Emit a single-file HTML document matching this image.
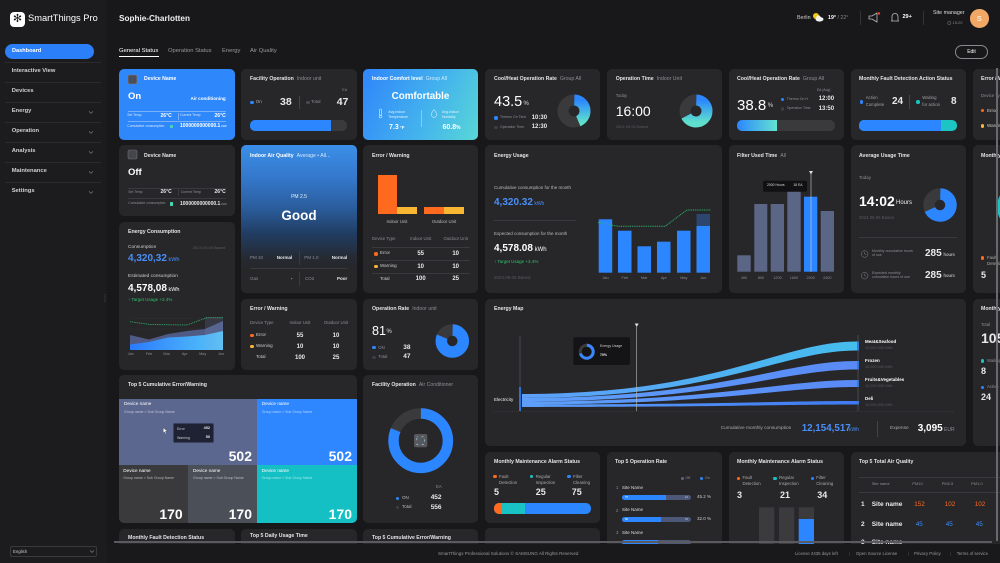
<!DOCTYPE html>
<html><head><meta charset="utf-8"><style>
*{margin:0;padding:0;box-sizing:border-box}
html,body{width:1000px;height:563px;overflow:hidden;background:#18181a}
body{position:relative;font-family:"Liberation Sans","DejaVu Sans",sans-serif}
.c{position:absolute;background:#27272a;border-radius:5px;overflow:hidden}
.t{position:absolute;white-space:nowrap;line-height:1;color:#e8e8ea}
.h{font-weight:bold;font-size:5.2px;color:#e4e4e6}
.h i{font-style:normal;font-weight:normal;color:#8e8e93;margin-left:3px}
.g{color:#8e8e93}
.k{color:#5a5a5f}
.b{font-weight:bold}
.d{position:absolute;width:3.6px;height:3.6px;border-radius:50%}
.l{position:absolute;background:#3a3a3e}
.ct{text-align:center;width:40px}
.bar{position:absolute;border-radius:5px;overflow:hidden;background:#3a3a3d}
.bar div{position:absolute;top:0;height:100%}
.sb{color:#d0d0d3;font-weight:bold;font-size:5.8px}
</style></head><body>

<!-- SIDEBAR -->
<div style="position:absolute;left:0;top:0;width:107px;height:563px;background:#1c1c1e"></div>
<div style="position:absolute;left:10px;top:12px;width:15px;height:15px;background:#fff;border-radius:4px"></div>
<div class="t" style="left:10px;top:13.5px;width:15px;text-align:center;font-size:11px;color:#1c1c1e">✻</div>
<div class="t" style="left:28px;top:14.3px;font-size:9.3px;color:#fff">SmartThings Pro</div>
<div style="position:absolute;left:5px;top:44px;width:89px;height:15px;border-radius:8px;background:#2b7ff8"></div>
<div class="t b" style="left:12px;top:48.8px;font-size:5.6px;color:#fff">Dashboard</div>
<div class="l" style="left:5px;top:62px;width:96px;height:.6px;background:#2b2b2e"></div>
<div class="l" style="left:5px;top:82px;width:96px;height:.6px;background:#2b2b2e"></div>
<div class="l" style="left:5px;top:102px;width:96px;height:.6px;background:#2b2b2e"></div>
<div class="l" style="left:5px;top:122px;width:96px;height:.6px;background:#2b2b2e"></div>
<div class="l" style="left:5px;top:142px;width:96px;height:.6px;background:#2b2b2e"></div>
<div class="l" style="left:5px;top:162px;width:96px;height:.6px;background:#2b2b2e"></div>
<div class="l" style="left:5px;top:182px;width:96px;height:.6px;background:#2b2b2e"></div>
<div class="t sb" style="left:11.7px;top:69px">Interactive View</div>
<div class="t sb" style="left:11.7px;top:89px">Devices</div>
<div class="t sb" style="left:11.7px;top:109.3px">Energy</div>
<div class="t sb" style="left:11.7px;top:129.3px">Operation</div>
<div class="t sb" style="left:11.7px;top:149.3px">Analysis</div>
<div class="t sb" style="left:11.7px;top:169.3px">Maintenance</div>
<div class="t sb" style="left:11.7px;top:189.3px">Settings</div>
<div style="position:absolute;left:10px;top:546px;width:87px;height:11px;border:1px solid #3a3a3d;border-radius:2px"></div>
<div class="t" style="left:13px;top:549.5px;font-size:4.3px;color:#ccc">English</div>

<!-- HEADER -->
<div class="t b" style="left:119px;top:15px;font-size:8.2px;color:#f0f0f2">Sophie-Charlotten</div>
<div class="t" style="left:797px;top:15.5px;font-size:5.3px;color:#ccc">Berlin</div>
<div class="t" style="left:828px;top:15.5px;font-size:5.3px;color:#fff"><b>19°</b><span style="color:#888"> / 22°</span></div>
<div class="l" style="left:860px;top:11px;width:.6px;height:14px;background:#333"></div>
<div class="t b" style="left:902.5px;top:15.3px;font-size:5.5px;color:#fff">29+</div>
<div class="l" style="left:923px;top:11px;width:.6px;height:14px;background:#333"></div>
<div class="t" style="left:933px;top:11.2px;font-size:5.3px;color:#ddd">Site manager</div>
<div class="t" style="left:952.5px;top:20.9px;font-size:4px;color:#888">15:20</div>
<div style="position:absolute;left:970px;top:9px;width:18.6px;height:18.6px;border-radius:50%;background:#f1a766"></div>
<div class="t" style="left:970px;top:14.6px;width:18.6px;text-align:center;font-size:7.5px;color:#fff">S</div>
<div class="t" style="left:119px;top:49px;font-size:5.9px;color:#fff">General Status</div>
<div class="t" style="left:168px;top:49px;font-size:5.8px;color:#9a9a9e">Operation Status</div>
<div class="t" style="left:222px;top:49px;font-size:5.8px;color:#9a9a9e">Energy</div>
<div class="t" style="left:250px;top:49px;font-size:5.8px;color:#9a9a9e">Air Quality</div>
<div class="l" style="left:119px;top:56px;width:40px;height:1px;background:#fff"></div>
<div style="position:absolute;left:955px;top:45px;width:33px;height:14px;border:1px solid #8a8a8e;border-radius:7px"></div>
<div class="t" style="left:955px;top:49.5px;width:33px;text-align:center;font-size:5px;color:#fff">Edit</div>

<!-- CARDS -->
<div class="c" style="left:119px;top:69px;width:116px;height:71px;background:#2e87fb"></div>
<div class="c" style="left:241px;top:69px;width:116px;height:71px"></div>
<div class="c" style="left:363px;top:69px;width:115px;height:71px;background:linear-gradient(115deg,#3189fa 5%,#45b5ec 60%,#58d8d6 100%)"></div>
<div class="c" style="left:485px;top:69px;width:115px;height:71px"></div>
<div class="c" style="left:607px;top:69px;width:115px;height:71px"></div>
<div class="c" style="left:729px;top:69px;width:115px;height:71px"></div>
<div class="c" style="left:851px;top:69px;width:115px;height:71px"></div>
<div class="c" style="left:973px;top:69px;width:60px;height:71px"></div>

<div class="c" style="left:119px;top:145px;width:116px;height:71px"></div>
<div class="c" style="left:241px;top:145px;width:116px;height:148px;background:linear-gradient(180deg,#3b8fe8 0%,#3478cc 22%,#2b5e9e 42%,#213d62 60%,#252a33 76%,#27272a 84%)"></div>
<div class="c" style="left:363px;top:145px;width:115px;height:148px"></div>
<div class="c" style="left:485px;top:145px;width:237px;height:148px"></div>
<div class="c" style="left:729px;top:145px;width:115px;height:148px"></div>
<div class="c" style="left:851px;top:145px;width:115px;height:148px"></div>
<div class="c" style="left:973px;top:145px;width:60px;height:148px"></div>
<div class="c" style="left:119px;top:222px;width:116px;height:148px"></div>
<div class="c" style="left:241px;top:299px;width:116px;height:71px"></div>
<div class="c" style="left:363px;top:299px;width:115px;height:71px"></div>
<div class="c" style="left:485px;top:299px;width:481px;height:147px"></div>
<div class="c" style="left:973px;top:299px;width:60px;height:147px"></div>

<div class="c" style="left:119px;top:375px;width:238px;height:148px">
 <div style="position:absolute;left:0;top:24px;width:137.7px;height:66px;background:#5b678f"></div>
 <div style="position:absolute;left:137.7px;top:24px;width:100.3px;height:66px;background:#2e87ff"></div>
 <div style="position:absolute;left:0;top:90px;width:69px;height:58px;background:#3a3a3d"></div>
 <div style="position:absolute;left:69px;top:90px;width:68.7px;height:58px;background:#4b4f58"></div>
 <div style="position:absolute;left:137.7px;top:90px;width:100.3px;height:58px;background:#14c0c3"></div>
</div>
<div class="c" style="left:363px;top:375px;width:115px;height:148px"></div>
<div class="c" style="left:485px;top:452px;width:115px;height:71px"></div>
<div class="c" style="left:607px;top:452px;width:115px;height:100px"></div>
<div class="c" style="left:729px;top:452px;width:115px;height:100px"></div>
<div class="c" style="left:851px;top:452px;width:182px;height:100px"></div>
<div class="c" style="left:485px;top:528px;width:115px;height:30px"></div>
<div class="c" style="left:119px;top:529px;width:116px;height:30px"></div>
<div class="c" style="left:241px;top:529px;width:116px;height:30px"></div>
<div class="c" style="left:363px;top:529px;width:115px;height:30px"></div>

<!-- GRAPHICS -->
<svg style="position:absolute;left:0;top:0" width="1000" height="563">
<defs>
<linearGradient id="gbt" x1="0" y1="0" x2="0" y2="1"><stop offset="0" stop-color="#2b86ff"/><stop offset="1" stop-color="#5ee0cc"/></linearGradient>
<linearGradient id="ga" x1="0" y1="0" x2="1" y2="0"><stop offset="0" stop-color="#2a7bff"/><stop offset="1" stop-color="#57c6f7"/></linearGradient>
<linearGradient id="sm" x1="0" y1="0" x2="1" y2="0"><stop offset="0" stop-color="#5d9ffa"/><stop offset="1" stop-color="#45bdec"/></linearGradient>
<linearGradient id="sf" x1="0" y1="0" x2="1" y2="0"><stop offset="0" stop-color="#5d9ffa"/><stop offset="1" stop-color="#5a8af6"/></linearGradient>
<linearGradient id="sd" x1="0" y1="0" x2="1" y2="0"><stop offset="0" stop-color="#5d9ffa"/><stop offset="1" stop-color="#3f7af2"/></linearGradient>
</defs>
<!-- sidebar chevrons -->
<g fill="none" stroke="#8a8a8e" stroke-width=".6">
<polyline points="89,111.3 91,113.3 93,111.3"/><polyline points="89,131.3 91,133.3 93,131.3"/>
<polyline points="89,151.3 91,153.3 93,151.3"/><polyline points="89,171.3 91,173.3 93,171.3"/>
<polyline points="89,191.3 91,193.3 93,191.3"/><polyline points="90,550.5 92,552.5 94,550.5"/>
</g>
<line x1="105" y1="294" x2="105" y2="302" stroke="#555" stroke-width=".8" stroke-dasharray=".8 1"/>
<!-- header icons -->
<circle cx="816" cy="16" r="3" fill="#f5c518"/>
<ellipse cx="819.5" cy="19.3" rx="4" ry="2.3" fill="#f2f2f2"/><circle cx="818.5" cy="17.6" r="2.2" fill="#f2f2f2"/>
<path d="M869,16 L872,16 L877,13 L877,22 L872,19 L869,19 Z" fill="none" stroke="#bbb" stroke-width=".8"/>
<circle cx="879" cy="13.5" r="1.2" fill="#ff3b30"/>
<path d="M892,21 L892,17 Q892,13.5 895,13.5 Q898,13.5 898,17 L898,21 Z M891,21 L899,21" fill="none" stroke="#bbb" stroke-width=".8"/>
<circle cx="949.3" cy="23" r="1.6" fill="none" stroke="#888" stroke-width=".5"/>
<!-- card A icons -->
<rect x="128" y="75" width="9" height="9" rx="1.5" fill="#4a4f5a" stroke="#7a808a" stroke-width=".6"/>
<rect x="128" y="150" width="9" height="9" rx="1.5" fill="#45464b" stroke="#6d6f75" stroke-width=".6"/>
<!-- card C icons -->
<rect x="379.5" y="109" width="2" height="6.5" rx="1" fill="none" stroke="#fff" stroke-width=".5"/>
<circle cx="380.5" cy="116.5" r="1.5" fill="none" stroke="#fff" stroke-width=".5"/>
<path d="M434,109.5 Q431.3,113 431.3,114.6 A2.7,2.7 0 0 0 436.7,114.6 Q436.7,113 434,109.5Z" fill="none" stroke="#fff" stroke-width=".5"/>
<!-- donuts -->
<circle cx="574" cy="111" r="11" fill="none" stroke="#3a3a3d" stroke-width="11"/>
<circle cx="574" cy="111" r="11" fill="none" stroke="url(#gbt)" stroke-width="11" stroke-dasharray="30.07 39.05" stroke-dashoffset="17.28"/>
<circle cx="696" cy="111" r="11" fill="none" stroke="#3a3a3d" stroke-width="11"/>
<circle cx="696" cy="111" r="11" fill="none" stroke="url(#gbt)" stroke-width="11" stroke-dasharray="46.3 22.82" stroke-dashoffset="17.28"/>
<circle cx="940" cy="205" r="11" fill="none" stroke="#3a3a3d" stroke-width="11.5"/>
<circle cx="940" cy="205" r="11" fill="none" stroke="#2b86ff" stroke-width="11.5" stroke-dasharray="47 22.12" stroke-dashoffset="17.28"/>
<circle cx="452.3" cy="341" r="11" fill="none" stroke="#3a3a3d" stroke-width="11.5"/>
<circle cx="452.3" cy="341" r="11" fill="none" stroke="#2b86ff" stroke-width="11.5" stroke-dasharray="55.98 13.14" stroke-dashoffset="17.28"/>
<circle cx="420.7" cy="440.7" r="27.2" fill="none" stroke="#3a3a3d" stroke-width="10.4"/>
<circle cx="420.7" cy="440.7" r="27.2" fill="none" stroke="#2b86ff" stroke-width="10.4" stroke-dasharray="138.9 32" stroke-dashoffset="42.73"/>
<rect x="414" y="434" width="13.3" height="13.3" rx="2" fill="#58585c"/>
<rect x="416.8" y="436.8" width="7.7" height="7.7" fill="none" stroke="#8fd3ee" stroke-width=".7" stroke-dasharray="2.2 3.5" stroke-dashoffset="1.1"/>
<circle cx="1021" cy="207" r="24" fill="#19c3c4"/>
<!-- error/warning bars -->
<rect x="378" y="175" width="19" height="39" fill="#ff6a1f"/>
<rect x="397" y="207" width="20" height="7" fill="#f7b733"/>
<rect x="424" y="207" width="20" height="7" fill="#ff6a1f"/>
<rect x="444" y="207" width="20" height="7" fill="#f7b733"/>
<!-- energy usage bars -->
<g fill="#2b86ff">
<rect x="598.7" y="219.3" width="13.5" height="53.4"/>
<rect x="618" y="230.7" width="13.5" height="42"/>
<rect x="637.5" y="246.3" width="13.5" height="26.4"/>
<rect x="657" y="241.7" width="13.5" height="31"/>
<rect x="677" y="230.7" width="13.5" height="42"/>
<rect x="696.5" y="226" width="13.5" height="46.7"/>
</g>
<rect x="696.5" y="214" width="13.5" height="12" fill="#2c4670"/>
<polyline points="598,222.5 618,226.3 665,226.3 687,210 711,210" fill="none" stroke="#2fb36a" stroke-width="1" stroke-dasharray="1 .8"/>
<!-- filter bars -->
<g fill="#5b6586">
<rect x="737.3" y="255.3" width="13.4" height="16.4"/>
<rect x="754.3" y="204" width="13" height="67.7"/>
<rect x="770.7" y="204" width="13.3" height="67.7"/>
<rect x="787.3" y="188.3" width="13.4" height="83.4"/>
<rect x="820.7" y="211" width="13.3" height="60.7"/>
</g>
<rect x="804" y="196.7" width="13.3" height="75" fill="#2b86ff"/>
<line x1="811" y1="173" x2="811" y2="272" stroke="#cfcfd2" stroke-width=".6"/>
<polygon points="809,171 813,171 811,174.5" fill="#ddd"/>
<rect x="763" y="180.7" width="44" height="11" rx="1.5" fill="#111113"/>
<!-- clock icons -->
<g fill="none" stroke="#888" stroke-width=".5">
<circle cx="864.7" cy="254" r="3.3"/><polyline points="864.7,252 864.7,254 866.2,254.8"/>
<circle cx="864.7" cy="275.7" r="3.3"/><polyline points="864.7,273.7 864.7,275.7 866.2,276.5"/>
</g>
<!-- area chart -->
<g stroke="#333336" stroke-width=".4"><line x1="130" y1="318.5" x2="223" y2="318.5"/><line x1="130" y1="329" x2="223" y2="329"/><line x1="130" y1="339.5" x2="223" y2="339.5"/></g>
<polygon points="130,335 149,339.5 168,334 187,331 205,329 223,321 223,350 130,350" fill="#4f5b84"/>
<polygon points="130,344.5 149,342 168,337.5 187,336.5 205,335 223,331 223,350 130,350" fill="url(#ga)"/>
<rect x="205" y="317" width="18" height="33" fill="rgba(140,160,220,0.15)"/>
<polyline points="130,321.7 150,324.5 187,325 206.7,317.7 223,317.7" fill="none" stroke="#2fb36a" stroke-width=".9" stroke-dasharray="1 .8"/>
<!-- sankey -->
<path d="M522,394 C720,394 780,341.5 857,341.5 L857,350.5 C780,350.5 720,398 522,398 Z" fill="url(#sm)"/>
<path d="M522,398 C720,398 780,361 857,361 L857,369.5 C780,369.5 720,401.5 522,401.5 Z" fill="url(#sf)"/>
<path d="M522,401.5 C720,401.5 780,380 857,380 L857,387 C780,387 720,404.5 522,404.5 Z" fill="url(#sf)"/>
<path d="M522,404.5 C720,404.5 780,401 857,401 L857,404.5 C780,404.5 720,407 522,407 Z" fill="url(#sd)"/>
<line x1="520" y1="336" x2="520" y2="411" stroke="#4a4a4e" stroke-width="1"/>
<line x1="520" y1="387" x2="520" y2="411" stroke="#2b86ff" stroke-width="1.6"/>
<line x1="858" y1="335" x2="858" y2="411" stroke="#4a4a4e" stroke-width="1"/>
<g stroke="#3a8cff" stroke-width="1.6"><line x1="858" y1="341.5" x2="858" y2="350.5"/><line x1="858" y1="361" x2="858" y2="369.5"/><line x1="858" y1="380" x2="858" y2="387"/><line x1="858" y1="401" x2="858" y2="404.5"/></g>
<line x1="494" y1="411.3" x2="954" y2="411.3" stroke="#4a4a4e" stroke-width=".5" stroke-dasharray="1 1"/>
<line x1="636.7" y1="327" x2="636.7" y2="411" stroke="#bbb" stroke-width=".6"/>
<polygon points="634.7,323.5 638.7,323.5 636.7,327" fill="#ddd"/>
<rect x="573.3" y="337.3" width="56.7" height="27.7" rx="2" fill="#141416"/>
<circle cx="586.7" cy="351.7" r="6.5" fill="none" stroke="#3a3a3d" stroke-width="3"/>
<circle cx="586.7" cy="351.7" r="6.5" fill="none" stroke="#3a86ff" stroke-width="3" stroke-dasharray="28.6 12.24" stroke-dashoffset="10.21"/>
<!-- monthly maint bars -->
<g fill="#3b3b3e"><rect x="759" y="507.3" width="15.3" height="45"/><rect x="779" y="507.3" width="15.3" height="45"/><rect x="798.7" y="507.3" width="15.3" height="45"/></g>
<rect x="798.7" y="519" width="15.3" height="35" fill="#2b86ff"/>
<!-- cursor -->
<polygon points="163.3,427.7 163.3,433 164.6,431.8 165.6,434 166.4,433.6 165.4,431.4 167.2,431.3" fill="#fff" stroke="#333" stroke-width=".3"/>
</svg>

<!-- CARD A -->
<div class="t h" style="left:144px;top:77.2px;color:#fff">Device Name</div>
<div class="t b" style="left:128px;top:92px;font-size:9.5px;color:#fff">On</div>
<div class="t b" style="right:774.3px;top:96.6px;font-size:4.6px;color:#fff">Air conditioning</div>
<div class="l" style="left:128px;top:110.7px;width:98px;height:.5px;background:rgba(255,255,255,.35)"></div>
<div class="t" style="left:127.3px;top:114.2px;font-size:3.4px;color:rgba(255,255,255,.8)">Set Temp</div>
<div class="t b" style="right:828.3px;top:113.5px;font-size:5px;color:#fff">26°C</div>
<div class="l" style="left:177.7px;top:112.5px;width:.5px;height:7px;background:rgba(255,255,255,.35)"></div>
<div class="t" style="left:180px;top:114.2px;font-size:3.4px;color:rgba(255,255,255,.8)">Current Temp</div>
<div class="t b" style="right:774.3px;top:113.5px;font-size:5px;color:#fff">26°C</div>
<div class="l" style="left:128px;top:121.3px;width:98px;height:.5px;background:rgba(255,255,255,.35)"></div>
<div class="t" style="left:127.3px;top:124.9px;font-size:3.4px;color:rgba(255,255,255,.8)">Cumulative consumption</div>
<div style="position:absolute;left:170px;top:125px;width:3.4px;height:3.4px;border-radius:.8px;background:#48d7b5"></div>
<div class="t b" style="left:180px;top:124.2px;font-size:5px;color:#fff">1000000000000.1<span style="font-size:3px;font-weight:normal"> kWh</span></div>

<!-- CARD B -->
<div class="t h" style="left:250px;top:77px">Facility Operation<i>Indoor unit</i></div>
<div class="t g" style="left:342.3px;top:89.2px;font-size:3.6px">EA</div>
<div class="d" style="left:250px;top:100.5px;background:#2b86ff"></div>
<div class="t" style="left:255.7px;top:100px;font-size:4.5px;color:#b0b0b4">On</div>
<div class="t b" style="left:280px;top:97.2px;font-size:10.5px">38</div>
<div class="l" style="left:299px;top:96px;width:.6px;height:13px;background:#444"></div>
<div class="d" style="left:306px;top:100.5px;background:#4a4a4e"></div>
<div class="t g" style="left:311px;top:100px;font-size:4.5px">Total</div>
<div class="t b" style="left:336.7px;top:97.2px;font-size:10.5px">47</div>
<div class="bar" style="left:250px;top:120px;width:97.3px;height:10.5px"><div style="left:0;width:81px;background:#2b86ff"></div></div>

<!-- CARD C -->
<div class="t h" style="left:372px;top:77px;color:#fff">Indoor Comfort level<i style="color:rgba(255,255,255,.75)">Group All</i></div>
<div class="t b" style="left:363px;width:115px;text-align:center;top:91.9px;font-size:9.8px;color:#fff">Comfortable</div>
<div class="t" style="left:388.3px;top:110.9px;font-size:3.5px;color:rgba(255,255,255,.85)">Avg.Indoor</div>
<div class="t" style="left:388.3px;top:116.2px;font-size:3.5px;color:rgba(255,255,255,.85)">Temperature</div>
<div class="t b" style="left:389px;top:123.9px;font-size:7px;color:#fff">7.3<span style="font-size:4.5px"> °F</span></div>
<div class="l" style="left:420.7px;top:110px;width:.5px;height:17px;background:rgba(255,255,255,.35)"></div>
<div class="t" style="left:442px;top:110.9px;font-size:3.5px;color:rgba(255,255,255,.85)">Avg.Indoor</div>
<div class="t" style="left:442px;top:116.2px;font-size:3.5px;color:rgba(255,255,255,.85)">Humidity</div>
<div class="t b" style="left:442.5px;top:123.9px;font-size:7px;color:#fff">60.8<span style="font-size:5px">%</span></div>

<!-- CARD D -->
<div class="t h" style="left:494px;top:77px">Cool/Heat Operation Rate<i>Group All</i></div>
<div class="t" style="left:494px;top:94.6px;font-size:14.5px;color:#fff">43.5</div>
<div class="t" style="left:523.5px;top:101px;font-size:6px;color:#ddd">%</div>
<div class="d" style="left:494px;top:116.2px;background:#2b86ff"></div>
<div class="t g" style="left:500px;top:116.2px;font-size:3.5px">Thermo On Time</div>
<div class="t b" style="left:531.7px;top:115px;font-size:6px">10:30</div>
<div class="d" style="left:494px;top:125.5px;background:#3e3e42"></div>
<div class="t g" style="left:500px;top:125.5px;font-size:3.5px">Operation Time</div>
<div class="t b" style="left:531.7px;top:124.3px;font-size:6px">12:30</div>

<!-- CARD E -->
<div class="t h" style="left:615.7px;top:77px">Operation Time<i>Indoor Unit</i></div>
<div class="t g" style="left:615.7px;top:93.5px;font-size:4.3px">Today</div>
<div class="t" style="left:615.7px;top:104.1px;font-size:14px;color:#fff">16:00</div>
<div class="t k" style="left:615.7px;top:125.2px;font-size:4px">2024.09.06 Based</div>

<!-- CARD F -->
<div class="t h" style="left:737px;top:77px">Cool/Heat Operation Rate<i>Group All</i></div>
<div class="t g" style="left:816.7px;top:89px;font-size:3.5px">EA (Avg)</div>
<div class="t" style="left:737px;top:97.6px;font-size:15px;color:#fff">38.8</div>
<div class="t" style="left:767.7px;top:103px;font-size:6px;color:#ddd">%</div>
<div class="d" style="left:780.5px;top:97.5px;background:#2b86ff"></div>
<div class="t g" style="left:786.7px;top:97.5px;font-size:3.5px">Thermo On H</div>
<div class="t b" style="left:818.7px;top:96.3px;font-size:6px">12:00</div>
<div class="d" style="left:780.5px;top:107.2px;background:#3e3e42"></div>
<div class="t g" style="left:786.7px;top:107.2px;font-size:3.5px">Operation Time</div>
<div class="t b" style="left:818.7px;top:106px;font-size:6px">13:50</div>
<div class="bar" style="left:737px;top:120px;width:98px;height:10.5px"><div style="left:0;width:40px;background:linear-gradient(90deg,#2b86ff,#63e3d0)"></div></div>

<!-- CARD G -->
<div class="t h" style="left:859px;top:77px">Monthly Fault Detection Action Status</div>
<div class="d" style="left:859.5px;top:100.2px;background:#2b86ff"></div>
<div class="t" style="left:865.7px;top:96.1px;font-size:4.3px;color:#a0a0a4">Action</div>
<div class="t" style="left:865.7px;top:103.1px;font-size:4.3px;color:#a0a0a4">Complete</div>
<div class="t b" style="left:892px;top:96.8px;font-size:10px">24</div>
<div class="l" style="left:908.7px;top:95px;width:.6px;height:14px;background:#444"></div>
<div class="d" style="left:916px;top:100.2px;background:#19c3c4"></div>
<div class="t" style="left:922.3px;top:96.1px;font-size:4.3px;color:#a0a0a4">Waiting</div>
<div class="t" style="left:922.3px;top:103.1px;font-size:4.3px;color:#a0a0a4">for action</div>
<div class="t b" style="left:951px;top:96.8px;font-size:10px">8</div>
<div class="bar" style="left:859.3px;top:120px;width:97.4px;height:10.5px;background:#1cc5c4"><div style="left:0;width:81.4px;background:#2b86ff"></div></div>

<!-- CARD H col8 -->
<div class="t h" style="left:981px;top:77px">Error / Warning</div>
<div class="t g" style="left:981px;top:93.8px;font-size:4.3px">Device Type</div>
<div class="d" style="left:980.5px;top:108.9px;background:#ff6a1f"></div>
<div class="t" style="left:987px;top:108.5px;font-size:4.5px;color:#ccc">Error</div>
<div class="d" style="left:980.5px;top:124.2px;background:#f7b733"></div>
<div class="t" style="left:987px;top:123.8px;font-size:4.5px;color:#ccc">Warning</div>

<!-- CARD I -->
<div class="t h" style="left:144px;top:153.5px">Device Name</div>
<div class="t b" style="left:128px;top:168.3px;font-size:9.5px;color:#fff">Off</div>
<div class="l" style="left:128px;top:187.7px;width:98px;height:.5px"></div>
<div class="t g" style="left:128.3px;top:190.5px;font-size:3.4px">Set Temp</div>
<div class="t b" style="right:828.3px;top:189.8px;font-size:5px">26°C</div>
<div class="l" style="left:177.7px;top:188.8px;width:.5px;height:7px"></div>
<div class="t g" style="left:180.7px;top:190.5px;font-size:3.4px">Current Temp</div>
<div class="t b" style="right:774.3px;top:189.8px;font-size:5px">26°C</div>
<div class="l" style="left:128px;top:197.5px;width:98px;height:.5px"></div>
<div class="t g" style="left:128.3px;top:202.2px;font-size:3.4px">Cumulative consumption</div>
<div style="position:absolute;left:170px;top:202.3px;width:3.4px;height:3.4px;border-radius:.8px;background:#48d7b5"></div>
<div class="t b" style="left:180px;top:201.5px;font-size:5px">1000000000000.1<span style="font-size:3px;font-weight:normal;color:#999"> kWh</span></div>

<!-- CARD J -->
<div class="t h" style="left:250px;top:153.5px;color:#fff">Indoor Air Quality<i style="color:rgba(255,255,255,.8)">Average • All...</i></div>
<div class="t" style="left:241px;width:116px;text-align:center;top:195.1px;font-size:5px;color:rgba(255,255,255,.9)">PM 2.5</div>
<div class="t b" style="left:241px;width:116px;text-align:center;top:209.4px;font-size:13.5px;color:#fff">Good</div>
<div class="t g" style="left:250px;top:255.7px;font-size:4.5px">PM 10</div>
<div class="t b" style="right:707.7px;top:255.5px;font-size:4.5px">Normal</div>
<div class="l" style="left:299px;top:250.5px;width:.6px;height:14px"></div>
<div class="t g" style="left:304.3px;top:255.7px;font-size:4.5px">PM 1.0</div>
<div class="t b" style="right:652.7px;top:255.5px;font-size:4.5px">Normal</div>
<div class="l" style="left:250px;top:268.3px;width:98px;height:.5px"></div>
<div class="t g" style="left:250px;top:276.7px;font-size:4.5px">Gas</div>
<div class="t b" style="right:707.7px;top:276.5px;font-size:4.5px">-</div>
<div class="l" style="left:299px;top:272px;width:.6px;height:14px"></div>
<div class="t g" style="left:305px;top:276.7px;font-size:4.5px">CO2</div>
<div class="t b" style="right:652.7px;top:276.5px;font-size:4.5px">Poor</div>

<!-- CARD K -->
<div class="t h" style="left:372px;top:153.5px">Error / Warning</div>
<div class="t ct" style="left:377px;top:219.8px;font-size:4.3px;color:#bbb">Indoor Unit</div>
<div class="t ct" style="left:424px;top:219.8px;font-size:4.3px;color:#bbb">Outdoor Unit</div>
<div class="t g" style="left:372px;top:236.8px;font-size:4.3px">Device Type</div>
<div class="t g ct" style="left:400.7px;top:236.8px;font-size:4.3px">Indoor Unit</div>
<div class="t g ct" style="left:435.7px;top:236.8px;font-size:4.3px">Outdoor Unit</div>
<div class="l" style="left:372px;top:247.3px;width:98px;height:.5px"></div>
<div class="l" style="left:372px;top:260px;width:98px;height:.5px"></div>
<div class="l" style="left:372px;top:273px;width:98px;height:.5px"></div>
<div class="d" style="left:374px;top:252px;background:#ff6a1f"></div>
<div class="t" style="left:380px;top:251.4px;font-size:4.5px;color:#ccc">Error</div>
<div class="t b ct" style="left:400.7px;top:250.7px;font-size:6px">55</div>
<div class="t b ct" style="left:435.7px;top:250.7px;font-size:6px">10</div>
<div class="d" style="left:374px;top:264.9px;background:#f7b733"></div>
<div class="t" style="left:380px;top:264.4px;font-size:4.5px;color:#ccc">Warning</div>
<div class="t b ct" style="left:400.7px;top:263.7px;font-size:6px">10</div>
<div class="t b ct" style="left:435.7px;top:263.7px;font-size:6px">10</div>
<div class="t" style="left:380px;top:277px;font-size:4.5px;color:#ccc">Total</div>
<div class="t b ct" style="left:400.7px;top:276.3px;font-size:6px">100</div>
<div class="t b ct" style="left:435.7px;top:276.3px;font-size:6px">25</div>

<!-- CARD L Energy Usage -->
<div class="t h" style="left:494px;top:153.5px">Energy Usage</div>
<div class="t" style="left:494px;top:185.7px;font-size:4.5px;color:#bbb">Cumulative consumption for the month</div>
<div class="t b" style="left:494px;top:197.8px;font-size:10px;color:#4a8ef8">4,320.32<span style="font-size:5px;font-weight:normal"> kWh</span></div>
<div class="l" style="left:494px;top:219.7px;width:82px;height:.5px"></div>
<div class="t" style="left:494px;top:231.7px;font-size:4.5px;color:#bbb">Expected consumption for the month</div>
<div class="t b" style="left:494px;top:243.8px;font-size:10px;color:#fff">4,578.08<span style="font-size:6px;font-weight:normal"> kWh</span></div>
<div class="t" style="left:494px;top:260px;font-size:4.5px;color:#30c06a">↑  Target Usage +3.4%</div>
<div class="t k" style="left:494px;top:276.4px;font-size:4.5px">2024.09.06 Based</div>
<div class="t g ct" style="left:585.5px;top:276.7px;font-size:3.8px">Jan</div>
<div class="t g ct" style="left:604.8px;top:276.7px;font-size:3.8px">Feb</div>
<div class="t g ct" style="left:624.2px;top:276.7px;font-size:3.8px">Mar</div>
<div class="t g ct" style="left:643.8px;top:276.7px;font-size:3.8px">Apr</div>
<div class="t g ct" style="left:663.8px;top:276.7px;font-size:3.8px">May</div>
<div class="t g ct" style="left:683.3px;top:276.7px;font-size:3.8px">Jun</div>

<!-- CARD M Filter -->
<div class="t h" style="left:737px;top:153.5px">Filter Used Time<i>All</i></div>
<div class="t" style="left:767px;top:184px;font-size:3.4px;color:#ddd">2000 Hours</div>
<div class="t" style="left:793.3px;top:184px;font-size:3.4px;color:#ddd">18 EA</div>
<div class="t g ct" style="left:724px;top:276.7px;font-size:3.8px">400</div>
<div class="t g ct" style="left:741px;top:276.7px;font-size:3.8px">800</div>
<div class="t g ct" style="left:757.5px;top:276.7px;font-size:3.8px">1200</div>
<div class="t g ct" style="left:774px;top:276.7px;font-size:3.8px">1600</div>
<div class="t g ct" style="left:790.7px;top:276.7px;font-size:3.8px">2000</div>
<div class="t g ct" style="left:807.3px;top:276.7px;font-size:3.8px">2400</div>

<!-- CARD N Avg usage -->
<div class="t h" style="left:859px;top:153.5px">Average Usage Time</div>
<div class="t g" style="left:859px;top:176.4px;font-size:4.5px">Today</div>
<div class="t b" style="left:859px;top:193.8px;font-size:14px;color:#fff">14:02</div>
<div class="t" style="left:896px;top:200px;font-size:6px;color:#eee">Hours</div>
<div class="t k" style="left:859px;top:216.1px;font-size:4.3px">2024.09.06 Based</div>
<div class="l" style="left:859px;top:237.3px;width:98px;height:.5px"></div>
<div class="t g" style="left:872px;top:249.8px;font-size:3.6px">Monthly cumulative hours</div>
<div class="t g" style="left:872px;top:254.3px;font-size:3.6px">of use</div>
<div class="t b" style="left:925px;top:249.4px;font-size:10px">285</div>
<div class="t" style="left:943.5px;top:253px;font-size:4.5px;color:#ddd">hours</div>
<div class="t g" style="left:872px;top:271.6px;font-size:3.6px">Expected monthly</div>
<div class="t g" style="left:872px;top:276.1px;font-size:3.6px">cumulative hours of use</div>
<div class="t b" style="left:925px;top:270.8px;font-size:10px">285</div>
<div class="t" style="left:943.5px;top:274.4px;font-size:4.5px;color:#ddd">hours</div>

<!-- CARD O col8 -->
<div class="t h" style="left:981px;top:153.5px">Monthly Fault</div>
<div class="d" style="left:980.5px;top:256.2px;background:#ff6a1f"></div>
<div class="t" style="left:987px;top:255.8px;font-size:4.3px;color:#aaa">Fault</div>
<div class="t" style="left:987px;top:261.8px;font-size:4.3px;color:#aaa">Detection</div>
<div class="t b" style="left:981px;top:270.6px;font-size:9px">5</div>

<!-- CARD P Energy Consumption -->
<div class="t h" style="left:128px;top:230px">Energy Consumption</div>
<div class="t" style="left:128px;top:245.5px;font-size:4.8px;color:#ccc">Consumption</div>
<div class="t k" style="right:774.7px;top:245.9px;font-size:4px">2024.09.06 Based</div>
<div class="t b" style="left:128px;top:254.1px;font-size:10px;color:#4a8ef8">4,320,32<span style="font-size:5.5px;font-weight:normal"> kWh</span></div>
<div class="t" style="left:128px;top:274.5px;font-size:4.8px;color:#ccc">Estimated consumption</div>
<div class="t b" style="left:128px;top:283.8px;font-size:10px;color:#fff">4,578,08<span style="font-size:5.5px;font-weight:normal"> kWh</span></div>
<div class="t" style="left:128px;top:298.4px;font-size:4.5px;color:#30c06a">↑  Target Usage +3.4%</div>
<div class="t g ct" style="left:110.7px;top:353px;font-size:3.8px">Jan</div>
<div class="t g ct" style="left:129px;top:353px;font-size:3.8px">Feb</div>
<div class="t g ct" style="left:146.7px;top:353px;font-size:3.8px">Mar</div>
<div class="t g ct" style="left:164.7px;top:353px;font-size:3.8px">Apr</div>
<div class="t g ct" style="left:182.7px;top:353px;font-size:3.8px">May</div>
<div class="t g ct" style="left:201px;top:353px;font-size:3.8px">Jun</div>

<!-- CARD Q -->
<div class="t h" style="left:250px;top:306.5px">Error / Warning</div>
<div class="t g" style="left:250px;top:320.5px;font-size:4.3px">Device Type</div>
<div class="t g ct" style="left:280px;top:320.5px;font-size:4.3px">Indoor Unit</div>
<div class="t g ct" style="left:316px;top:320.5px;font-size:4.3px">Outdoor Unit</div>
<div class="d" style="left:250px;top:333.9px;background:#ff6a1f"></div>
<div class="t" style="left:256px;top:333.4px;font-size:4.5px;color:#ccc">Error</div>
<div class="t b ct" style="left:280px;top:332.7px;font-size:6px">55</div>
<div class="t b ct" style="left:316px;top:332.7px;font-size:6px">10</div>
<div class="d" style="left:250px;top:344.9px;background:#f7b733"></div>
<div class="t" style="left:256px;top:344.4px;font-size:4.5px;color:#ccc">Warning</div>
<div class="t b ct" style="left:280px;top:343.7px;font-size:6px">10</div>
<div class="t b ct" style="left:316px;top:343.7px;font-size:6px">10</div>
<div class="t" style="left:256px;top:355.4px;font-size:4.5px;color:#ccc">Total</div>
<div class="t b ct" style="left:280px;top:354.7px;font-size:6px">100</div>
<div class="t b ct" style="left:316px;top:354.7px;font-size:6px">25</div>

<!-- CARD R -->
<div class="t h" style="left:372px;top:306.5px">Operation Rate<i>Indoor unit</i></div>
<div class="t" style="left:372px;top:324.8px;font-size:12.6px;color:#fff">81</div>
<div class="t" style="left:386.5px;top:329px;font-size:6px;color:#ddd">%</div>
<div class="d" style="left:372px;top:345.9px;background:#2b86ff"></div>
<div class="t g" style="left:378.3px;top:345.5px;font-size:4.3px">ON</div>
<div class="t b" style="left:403.3px;top:344.5px;font-size:6.5px">38</div>
<div class="d" style="left:372px;top:355.5px;background:#3e3e42"></div>
<div class="t g" style="left:378.3px;top:355.1px;font-size:4.3px">Total</div>
<div class="t b" style="left:403.3px;top:354.1px;font-size:6.5px">47</div>

<!-- CARD S Energy Map -->
<div class="t h" style="left:494px;top:307.2px">Energy Map</div>
<div class="t" style="left:494px;top:397.7px;font-size:4.5px;color:#eee">Electricity</div>
<div class="t b" style="left:865px;top:339.7px;font-size:4.5px;color:#fff">Meat&amp;Seafood</div>
<div class="t k" style="left:865px;top:347px;font-size:3.8px">10,000,000 kWh</div>
<div class="t b" style="left:865px;top:358.7px;font-size:4.5px;color:#fff">Frozen</div>
<div class="t k" style="left:865px;top:366px;font-size:3.8px">10,000,000 kWh</div>
<div class="t b" style="left:865px;top:377.7px;font-size:4.5px;color:#fff">Fruits&amp;Vegetables</div>
<div class="t k" style="left:865px;top:385px;font-size:3.8px">10,000,000 kWh</div>
<div class="t b" style="left:865px;top:396.7px;font-size:4.5px;color:#fff">Deli</div>
<div class="t k" style="left:865px;top:404px;font-size:3.8px">10,000,000 kWh</div>
<div class="t" style="left:600px;top:345px;font-size:3.5px;color:#ccc">Energy Usage</div>
<div class="t b" style="left:600px;top:353.5px;font-size:3.5px;color:#eee">70%</div>
<div class="t" style="left:720.7px;top:426.7px;font-size:4.8px;color:#aaa">Cumulative monthly consumption</div>
<div class="t b" style="left:801.7px;top:424.2px;font-size:9.8px;color:#4a8ef8">12,154,517</div>
<div class="t" style="left:849px;top:427.5px;font-size:5px;color:#4a8ef8">kWh</div>
<div class="l" style="left:876.7px;top:421px;width:.5px;height:16px;background:#444"></div>
<div class="t" style="left:890px;top:426.7px;font-size:4.8px;color:#aaa">Expense</div>
<div class="t b" style="left:917.7px;top:424px;font-size:10px;color:#fff">3,095</div>
<div class="t g" style="left:944px;top:427.5px;font-size:5px">EUR</div>

<!-- CARD T col8 -->
<div class="t h" style="left:981px;top:306.8px">Monthly Fault</div>
<div class="t g" style="left:981px;top:322.8px;font-size:4.3px">Total</div>
<div class="t b" style="left:981px;top:331.4px;font-size:14px">105</div>
<div class="d" style="left:980.5px;top:359px;background:#19c3c4"></div>
<div class="t g" style="left:987px;top:358.5px;font-size:4.3px">Waiting</div>
<div class="t b" style="left:981px;top:366.6px;font-size:9px">8</div>
<div class="d" style="left:980.5px;top:385.5px;background:#2b86ff"></div>
<div class="t g" style="left:987px;top:385px;font-size:4.3px">Active</div>
<div class="t b" style="left:981px;top:393.3px;font-size:9px">24</div>

<!-- CARD U treemap -->
<div class="t h" style="left:128px;top:383.2px">Top 5 Cumulative Error/Warning</div>
<div class="t" style="left:124px;top:402.3px;font-size:4.7px;color:#fff">Device name</div>
<div class="t" style="left:124px;top:411.2px;font-size:3.5px;color:rgba(255,255,255,.6)">Group name  &gt;  Sub Group Name</div>
<div class="t b" style="right:748px;top:449.2px;font-size:14px;color:#fff">502</div>
<div class="t" style="left:261.7px;top:402.3px;font-size:4.7px;color:#fff">Device name</div>
<div class="t" style="left:261.7px;top:411.2px;font-size:3.5px;color:rgba(255,255,255,.6)">Group name  &gt;  Sub Group Name</div>
<div class="t b" style="right:648px;top:449.2px;font-size:14px;color:#fff">502</div>
<div class="t" style="left:123.3px;top:468.6px;font-size:4.7px;color:#fff">Device name</div>
<div class="t" style="left:123.3px;top:477.2px;font-size:3.5px;color:rgba(255,255,255,.6)">Group name  &gt;  Sub Group Name</div>
<div class="t b" style="right:817.3px;top:507.2px;font-size:14px;color:#fff">170</div>
<div class="t" style="left:193px;top:468.6px;font-size:4.7px;color:#fff">Device name</div>
<div class="t" style="left:193px;top:477.2px;font-size:3.5px;color:rgba(255,255,255,.6)">Group name  &gt;  Sub Group Name</div>
<div class="t b" style="right:748px;top:507.2px;font-size:14px;color:#fff">170</div>
<div class="t" style="left:261.7px;top:468.6px;font-size:4.7px;color:#fff">Device name</div>
<div class="t" style="left:261.7px;top:477.2px;font-size:3.5px;color:rgba(255,255,255,.6)">Group name  &gt;  Sub Group Name</div>
<div class="t b" style="right:648px;top:507.2px;font-size:14px;color:#fff">170</div>
<div style="position:absolute;left:173px;top:423px;width:41px;height:20px;background:#1e2233;border-radius:2px;border:.5px solid #3a4060"></div>
<div class="t" style="left:177px;top:427.5px;font-size:3.5px;color:#ccc">Error</div>
<div class="t b" style="right:790px;top:427.3px;font-size:3.8px">452</div>
<div class="t" style="left:177px;top:436.5px;font-size:3.5px;color:#ccc">Warning</div>
<div class="t b" style="right:790px;top:436.3px;font-size:3.8px">50</div>

<!-- CARD V -->
<div class="t h" style="left:372px;top:383.2px">Facility Operation<i>Air Conditioner</i></div>
<div class="t g" style="left:436px;top:484.8px;font-size:4.3px">EA</div>
<div class="d" style="left:395.5px;top:496.5px;background:#2b86ff"></div>
<div class="t" style="left:402px;top:496px;font-size:4.5px;color:#bbb">ON</div>
<div class="t b" style="left:430.7px;top:495.1px;font-size:6.5px">452</div>
<div class="d" style="left:395.5px;top:505.9px;background:#3e3e42"></div>
<div class="t" style="left:402px;top:505.4px;font-size:4.5px;color:#bbb">Total</div>
<div class="t b" style="left:430.7px;top:504.5px;font-size:6.5px">556</div>

<!-- CARD W -->
<div class="t h" style="left:494px;top:460px">Monthly Maintenance Alarm Status</div>
<div class="d" style="left:493.2px;top:474.9px;background:#ff6a1f"></div>
<div class="t" style="left:499px;top:474.5px;font-size:4.3px;color:#aaa">Fault</div>
<div class="t" style="left:499px;top:480.8px;font-size:4.3px;color:#aaa">Detection</div>
<div class="d" style="left:529.9px;top:474.9px;background:#19c3c4"></div>
<div class="t" style="left:535.7px;top:474.5px;font-size:4.3px;color:#aaa">Regular</div>
<div class="t" style="left:535.7px;top:480.8px;font-size:4.3px;color:#aaa">Inspection</div>
<div class="d" style="left:567.2px;top:474.9px;background:#2b86ff"></div>
<div class="t" style="left:573px;top:474.5px;font-size:4.3px;color:#aaa">Filter</div>
<div class="t" style="left:573px;top:480.8px;font-size:4.3px;color:#aaa">Cleaning</div>
<div class="t b" style="left:494px;top:487.9px;font-size:9px">5</div>
<div class="t b" style="left:535.7px;top:487.9px;font-size:9px">25</div>
<div class="t b" style="left:571.7px;top:487.9px;font-size:9px">75</div>
<div class="bar" style="left:494px;top:503px;width:97px;height:10.5px;background:#2b86ff"><div style="left:0;width:7.7px;background:#ff6a1f"></div><div style="left:7.7px;width:23.3px;background:#19c3c4"></div></div>

<!-- CARD X -->
<div class="t h" style="left:615px;top:460px">Top 5 Operation Rate</div>
<div class="d" style="left:680.5px;top:477px;width:3px;height:3px;background:#5b6585"></div>
<div class="t g" style="left:685.5px;top:476.8px;font-size:3.6px">Off</div>
<div class="d" style="left:700.2px;top:477px;width:3px;height:3px;background:#2b86ff"></div>
<div class="t g" style="left:705px;top:476.8px;font-size:3.6px">On</div>
<div class="t g" style="left:616px;top:486.1px;font-size:4.3px">1</div>
<div class="t" style="left:622px;top:486px;font-size:4.5px;color:#ddd">Site Name</div>
<div class="bar" style="left:622px;top:495px;width:68.7px;height:5.3px;border-radius:3px;background:#4d5878"><div style="left:0;width:44px;background:#2b86ff"></div></div>
<div class="t" style="left:625px;top:496.3px;font-size:2.8px;color:#fff">75</div>
<div class="t" style="right:312px;top:496.3px;font-size:2.8px;color:#ccc">24</div>
<div class="t" style="left:697px;top:495.4px;font-size:4.5px;color:#ccc">45.2 %</div>
<div class="t g" style="left:616px;top:508.5px;font-size:4.3px">2</div>
<div class="t" style="left:622px;top:508.4px;font-size:4.5px;color:#ddd">Site Name</div>
<div class="bar" style="left:622px;top:517px;width:68.7px;height:5.3px;border-radius:3px;background:#4d5878"><div style="left:0;width:39px;background:#2b86ff"></div></div>
<div class="t" style="left:625px;top:518.3px;font-size:2.8px;color:#fff">80</div>
<div class="t" style="right:312px;top:518.3px;font-size:2.8px;color:#ccc">33</div>
<div class="t" style="left:697px;top:517.4px;font-size:4.5px;color:#ccc">32.0 %</div>
<div class="t g" style="left:616px;top:531.1px;font-size:4.3px">3</div>
<div class="t" style="left:622px;top:531px;font-size:4.5px;color:#ddd">Site Name</div>
<div class="bar" style="left:622px;top:539.7px;width:68.7px;height:5.3px;border-radius:3px;background:#4d5878"><div style="left:0;width:36px;background:#2b86ff"></div></div>

<!-- CARD Y -->
<div class="t h" style="left:737px;top:460px">Monthly Maintenance Alarm Status</div>
<div class="d" style="left:736.5px;top:476.5px;background:#ff6a1f"></div>
<div class="t" style="left:742.5px;top:476px;font-size:4.3px;color:#aaa">Fault</div>
<div class="t" style="left:742.5px;top:482.4px;font-size:4.3px;color:#aaa">Detection</div>
<div class="d" style="left:773.2px;top:476.5px;background:#19c3c4"></div>
<div class="t" style="left:779px;top:476px;font-size:4.3px;color:#aaa">Regular</div>
<div class="t" style="left:779px;top:482.4px;font-size:4.3px;color:#aaa">Inspection</div>
<div class="d" style="left:810.5px;top:476.5px;background:#2b86ff"></div>
<div class="t" style="left:816.3px;top:476px;font-size:4.3px;color:#aaa">Filter</div>
<div class="t" style="left:816.3px;top:482.4px;font-size:4.3px;color:#aaa">Cleaning</div>
<div class="t b" style="left:737px;top:490.6px;font-size:9px">3</div>
<div class="t b" style="left:780px;top:490.6px;font-size:9px">21</div>
<div class="t b" style="left:817.3px;top:490.6px;font-size:9px">34</div>

<!-- CARD Z -->
<div class="t h" style="left:859px;top:460px">Top 5 Total Air Quality</div>
<div class="l" style="left:859px;top:476.7px;width:141px;height:.5px"></div>
<div class="t g" style="left:871.7px;top:482.3px;font-size:4px">Site name</div>
<div class="t g" style="left:912.3px;top:482.3px;font-size:4px">PM10</div>
<div class="t g" style="left:941.7px;top:482.3px;font-size:4px">PM2.5</div>
<div class="t g" style="left:971px;top:482.3px;font-size:4px">PM1.0</div>
<div class="l" style="left:859px;top:492.3px;width:141px;height:.5px"></div>
<div class="t b" style="left:861px;top:501.8px;font-size:6.5px">1</div>
<div class="t b" style="left:871.7px;top:501.8px;font-size:6.5px">Site name</div>
<div class="t" style="left:914.3px;top:501.8px;font-size:6.3px;color:#ff6a1f">152</div>
<div class="t" style="left:944.7px;top:501.8px;font-size:6.3px;color:#ff6a1f">102</div>
<div class="t" style="left:974.7px;top:501.8px;font-size:6.3px;color:#ff6a1f">102</div>
<div class="t b" style="left:861px;top:521.5px;font-size:6.5px">2</div>
<div class="t b" style="left:871.7px;top:521.5px;font-size:6.5px">Site name</div>
<div class="t" style="left:915.7px;top:521.5px;font-size:6.3px;color:#3a8cff">45</div>
<div class="t" style="left:945.7px;top:521.5px;font-size:6.3px;color:#3a8cff">45</div>
<div class="t" style="left:975.7px;top:521.5px;font-size:6.3px;color:#3a8cff">45</div>
<div class="t b" style="left:861px;top:540.1px;font-size:6.5px">3</div>
<div class="t b" style="left:871.7px;top:540.1px;font-size:6.5px">Site name</div>

<!-- ROW5 titles -->
<div class="t h" style="left:128px;top:536.2px">Monthly Fault Detection Status</div>
<div class="t h" style="left:250px;top:534px">Top 5 Daily Usage Time</div>
<div class="t h" style="left:372px;top:536.2px">Top 5 Cumulative Error/Warning</div>

<!-- scrollbars -->
<div style="position:absolute;left:996px;top:68px;width:1.6px;height:473px;background:#6a6a6e"></div>
<div style="position:absolute;left:114px;top:540.5px;width:878px;height:2px;background:#5b5b5f"></div>

<!-- FOOTER -->
<div style="position:absolute;left:107px;top:543.5px;width:893px;height:20px;background:#19191b"></div>
<div class="t" style="left:438px;top:551.8px;font-size:4.5px;color:#9a9a9e">SmartThings Professional Solutions © SAMSUNG All Rights Reserved</div>
<div class="t" style="left:795px;top:551.8px;font-size:4.3px;color:#9a9a9e">License 2435 days left</div>
<div class="t" style="left:849px;top:551.8px;font-size:4.3px;color:#555">|</div>
<div class="t" style="left:856px;top:551.8px;font-size:4.3px;color:#9a9a9e">Open Source License</div>
<div class="t" style="left:907.7px;top:551.8px;font-size:4.3px;color:#555">|</div>
<div class="t" style="left:914px;top:551.8px;font-size:4.3px;color:#9a9a9e">Privacy Policy</div>
<div class="t" style="left:950px;top:551.8px;font-size:4.3px;color:#555">|</div>
<div class="t" style="left:956.7px;top:551.8px;font-size:4.3px;color:#9a9a9e">Terms of service</div>
</body></html>
